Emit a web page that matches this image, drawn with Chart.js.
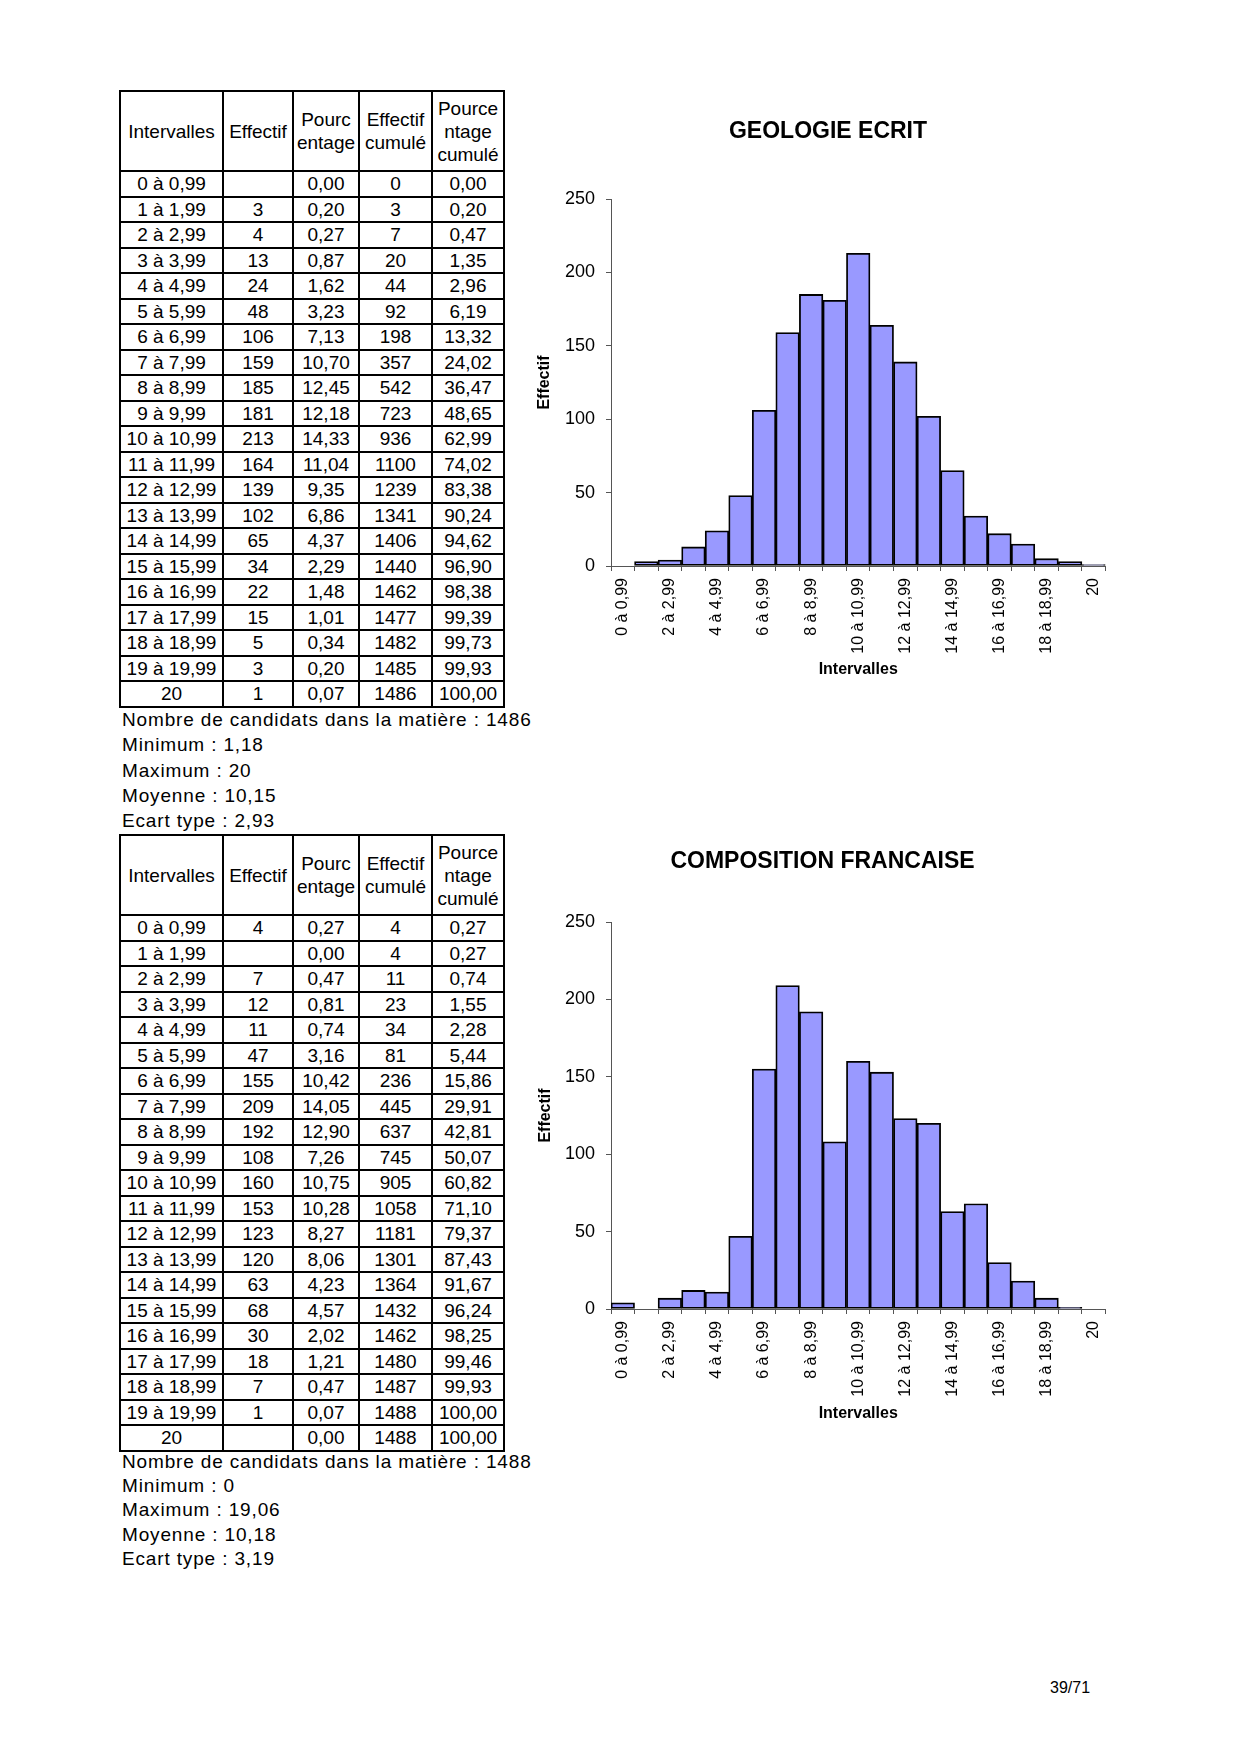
<!DOCTYPE html>
<html lang="fr">
<head>
<meta charset="utf-8">
<title>Géologie écrit - Composition française</title>
<script src="https://cdn.jsdelivr.net/npm/chart.js@4.4.0/dist/chart.umd.min.js"></script>
<style>
  html, body { margin: 0; padding: 0; background: #fff; }
  body { width: 1240px; height: 1754px; position: relative; overflow: hidden;
         font-family: "Liberation Sans", Arial, sans-serif; color: #000; }
  table.stats { position: absolute; left: 119px; border-collapse: collapse; table-layout: fixed;
                width: 385px; font-size: 19px; }
  table.stats th, table.stats td { border: 2px solid #000; padding: 0; text-align: center;
                font-weight: normal; white-space: nowrap; overflow: hidden; }
  table.stats tr.head { height: 80px; }
  table.stats tr.head th { line-height: 23px; }
  table.stats tr.row { height: 25.5px; }
  table.stats tr.row td { line-height: 21px; }
  .notes { position: absolute; left: 122px; font-size: 19px; letter-spacing: 0.85px; white-space: nowrap; }
  canvas.chart { position: absolute; }
  #page { position: absolute; left: 1050px; top: 1679px; font-size: 16px; }
</style>
</head>
<body>

<table class="stats" id="tableGeo" style="top:90px"></table>
<div class="notes" id="notesGeo" style="top:707px;line-height:25.3px"></div>
<canvas class="chart" id="chartGeo" width="585" height="586" style="left:535px;top:100px"></canvas>

<table class="stats" id="tableFr" style="top:834px"></table>
<div class="notes" id="notesFr" style="top:1450px;line-height:24.2px"></div>
<canvas class="chart" id="chartFr" width="590" height="599" style="left:530px;top:830px"></canvas>

<div id="page">39/71</div>

<script>
// intervalles de notes (communs aux deux matières)
const intervalles = ['0 à 0,99', '1 à 1,99', '2 à 2,99', '3 à 3,99', '4 à 4,99', '5 à 5,99', '6 à 6,99',
  '7 à 7,99', '8 à 8,99', '9 à 9,99', '10 à 10,99', '11 à 11,99', '12 à 12,99', '13 à 13,99',
  '14 à 14,99', '15 à 15,99', '16 à 16,99', '17 à 17,99', '18 à 18,99', '19 à 19,99', '20'];
const yTicks = [0, 50, 100, 150, 200, 250];

// GEOLOGIE ECRIT
const geoEffectif = [null, 3, 4, 13, 24, 48, 106, 159, 185, 181, 213, 164, 139, 102, 65, 34, 22, 15, 5, 3, 1];
const geoPourcentage = ['0,00', '0,20', '0,27', '0,87', '1,62', '3,23', '7,13', '10,70', '12,45', '12,18', '14,33',
  '11,04', '9,35', '6,86', '4,37', '2,29', '1,48', '1,01', '0,34', '0,20', '0,07'];
const geoCumul = [0, 3, 7, 20, 44, 92, 198, 357, 542, 723, 936, 1100, 1239, 1341, 1406, 1440, 1462, 1477, 1482, 1485, 1486];
const geoPctCumul = ['0,00', '0,20', '0,47', '1,35', '2,96', '6,19', '13,32', '24,02', '36,47', '48,65', '62,99',
  '74,02', '83,38', '90,24', '94,62', '96,90', '98,38', '99,39', '99,73', '99,93', '100,00'];
const geoNotes = ['Nombre de candidats dans la matière : 1486', 'Minimum : 1,18', 'Maximum : 20',
  'Moyenne : 10,15', 'Ecart type : 2,93'];

// COMPOSITION FRANCAISE
const frEffectif = [4, null, 7, 12, 11, 47, 155, 209, 192, 108, 160, 153, 123, 120, 63, 68, 30, 18, 7, 1, null];
const frPourcentage = ['0,27', '0,00', '0,47', '0,81', '0,74', '3,16', '10,42', '14,05', '12,90', '7,26', '10,75',
  '10,28', '8,27', '8,06', '4,23', '4,57', '2,02', '1,21', '0,47', '0,07', '0,00'];
const frCumul = [4, 4, 11, 23, 34, 81, 236, 445, 637, 745, 905, 1058, 1181, 1301, 1364, 1432, 1462, 1480, 1487, 1488, 1488];
const frPctCumul = ['0,27', '0,27', '0,74', '1,55', '2,28', '5,44', '15,86', '29,91', '42,81', '50,07', '60,82',
  '71,10', '79,37', '87,43', '91,67', '96,24', '98,25', '99,46', '99,93', '100,00', '100,00'];
const frNotes = ['Nombre de candidats dans la matière : 1488', 'Minimum : 0', 'Maximum : 19,06',
  'Moyenne : 10,18', 'Ecart type : 3,19'];

const FONT = '"Liberation Sans", Arial, sans-serif';

function buildTable(id, effectif, pct, cumul, pctCumul) {
  const t = document.getElementById(id);
  let html = `<colgroup><col style="width:103px"><col style="width:70px"><col style="width:66px">` +
    `<col style="width:73px"><col style="width:72px"></colgroup>`;
  html += `<tr class="head"><th>Intervalles</th><th>Effectif</th><th>Pourc<br>entage</th>` +
    `<th>Effectif<br>cumulé</th><th>Pource<br>ntage<br>cumulé</th></tr>`;
  intervalles.forEach((lab, i) => {
    html += `<tr class="row"><td>${lab}</td><td>${effectif[i] == null ? '' : effectif[i]}</td>` +
      `<td>${pct[i]}</td><td>${cumul[i]}</td><td>${pctCumul[i]}</td></tr>`;
  });
  t.innerHTML = html;
}

function buildNotes(id, lines) {
  document.getElementById(id).innerHTML = lines.map(l => `<div>${l}</div>`).join('');
}

// histogramme : g = réglages de mise en page du canvas
function drawHistogram(id, title, values, g) {
  const ctx = document.getElementById(id).getContext('2d');
  new Chart(ctx, {
    type: 'bar',
    data: {
      labels: intervalles,
      datasets: [{
        data: values,
        backgroundColor: '#9999ff',
        borderColor: '#000',
        borderWidth: 1.8,
        borderSkipped: false,
        barPercentage: 1,
        categoryPercentage: 1
      }]
    },
    options: {
      responsive: false,
      animation: false,
      devicePixelRatio: 1,
      layout: { padding: { left: g.padLeft, right: 5, top: 0, bottom: 0 } },
      plugins: {
        legend: { display: false },
        tooltip: { enabled: false },
        title: {
          display: true, text: title, color: '#000',
          font: { family: FONT, size: 23, weight: 'bold' },
          padding: { top: 18.2, bottom: g.titleGap }
        }
      },
      scales: {
        x: {
          offset: true,
          grid: { offset: true, drawOnChartArea: false, drawTicks: true, tickLength: 5, color: '#555' },
          border: { color: '#555', width: 1 },
          ticks: {
            autoSkip: false, minRotation: 90, maxRotation: 90, padding: 7, color: '#000',
            font: { family: FONT, size: 16 },
            callback: (v, i) => (i % 2 === 0 ? intervalles[i] : '')
          },
          title: {
            display: true, text: 'Intervalles', color: '#000',
            font: { family: FONT, size: 16, weight: 'bold' },
            padding: { top: 0, bottom: g.xTitlePad }
          },
          afterFit: s => { s.height = 120; }
        },
        y: {
          min: 0, max: 250,
          afterBuildTicks: s => { s.ticks = yTicks.map(v => ({ value: v })); },
          grid: { drawOnChartArea: false, drawTicks: true, tickLength: 5, color: '#555' },
          border: { color: '#555', width: 1 },
          ticks: { padding: 11, color: '#000', font: { family: FONT, size: 18 } },
          title: {
            display: true, text: 'Effectif', color: '#000',
            font: { family: FONT, size: 16, weight: 'bold' },
            padding: { top: g.yTitlePad, bottom: 0 }
          },
          afterFit: s => { s.width = g.axisWidth; }
        }
      }
    }
  });
}

buildTable('tableGeo', geoEffectif, geoPourcentage, geoCumul, geoPctCumul);
buildNotes('notesGeo', geoNotes);
buildTable('tableFr', frEffectif, frPourcentage, frCumul, frPctCumul);
buildNotes('notesFr', frNotes);

drawHistogram('chartGeo', 'GEOLOGIE ECRIT', geoEffectif,
  { padLeft: 6, axisWidth: 70, titleGap: 53.2, xTitlePad: 6.4, yTitlePad: -5.6 });
drawHistogram('chartFr', 'COMPOSITION FRANCAISE', frEffectif,
  { padLeft: 0, axisWidth: 81, titleGap: 46.2, xTitlePad: 5.9, yTitlePad: 6.4 });
</script>
</body>
</html>
